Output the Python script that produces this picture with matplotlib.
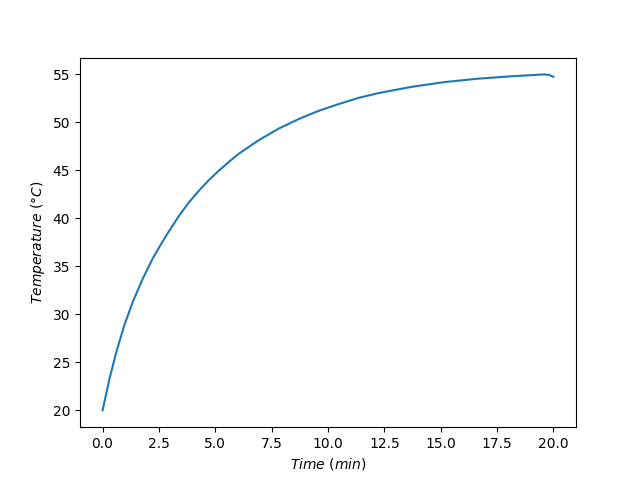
# Temperature rise of the heated sample over time

import matplotlib
matplotlib.use('Agg')
import matplotlib.pyplot as plt

# values
time_min = [0, 0.31, 0.60, 0.97, 1.34, 1.78, 2.22, 2.59, 2.93, 3.40, 3.84,
            4.28, 4.72, 5.17, 5.61, 6.05, 6.93, 7.81, 8.70, 9.58, 10.46,
            11.35, 12.23, 13.70, 15.17, 16.64, 18.11, 19.0, 19.59, 19.8, 20.0]
temp_c = [20.0, 23.3, 26.0, 28.9, 31.3, 33.7, 35.8, 37.3, 38.6, 40.3, 41.7,
          42.9, 44.0, 45.0, 45.9, 46.75, 48.15, 49.35, 50.35, 51.2, 51.9,
          52.55, 53.05, 53.7, 54.2, 54.55, 54.8, 54.92, 55.0, 54.95, 54.75]

fig, ax = plt.subplots(figsize=(6.4, 4.8), dpi=100)
ax.plot(time_min, temp_c)
ax.set_xlabel(r'$Time\ (min)$')
ax.set_ylabel(r'$Temperature\ (°C)$')

fig.savefig('out.png')
